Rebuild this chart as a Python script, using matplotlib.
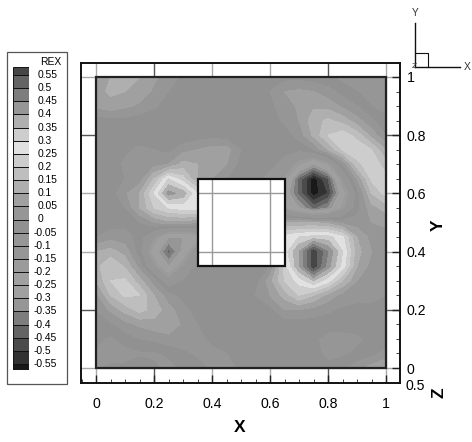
import numpy as np
import matplotlib
matplotlib.use('Agg')
import matplotlib.pyplot as plt
from matplotlib.patches import Rectangle

plt.rcParams['font.family'] = ['Liberation Sans', 'DejaVu Sans']

W, H = 472, 442

# REX, rows from y=1 down to y=0, columns x=0..1
x_vals = [i * 0.05 for i in range(21)]
y_vals = [1 - i * 0.05 for i in range(21)]
rex = [
    [.06, .10, .14, .10, .06, .02, -.01, -.03, -.04, -.04, -.04, -.04, -.03, -.02, -.02, -.03, -.04, -.07, -.09, -.10, -.10],
    [.08, .11, .10, .08, .04, 0, -.03, -.04, -.04, -.04, -.04, -.03, 0, .05, .06, .05, .02, -.02, -.05, -.07, -.08],
    [.06, .08, .06, .04, .01, -.03, -.04, -.04, -.04, -.04, -.04, -.03, -.01, .02, .06, .09, .08, .04, 0, -.05, -.07],
    [-.03, -.02, -.02, -.03, -.04, -.04, -.04, -.04, -.04, -.04, -.04, -.04, -.03, .01, .05, .13, .16, .13, .07, .01, -.04],
    [-.04, -.04, -.03, -.03, -.04, -.04, -.04, -.03, -.02, -.03, -.04, -.04, -.04, -.03, .02, .11, .2, .23, .18, .08, 0],
    [-.04, -.03, -.01, .01, 0, -.02, .03, .05, .07, .07, 0, -.04, -.04, -.04, -.04, 0, .1, .2, .24, .2, .1],
    [-.04, -.03, .01, .02, .03, .05, .12, .10, .10, .05, -.02, -.04, -.04, -.07, -.2, -.3, -.2, 0, .18, .24, .17],
    [-.04, -.03, 0, .02, .15, .3, .22, .1, .05, 0, -.03, -.04, -.07, -.17, -.42, -.58, -.45, -.15, .05, .21, .22],
    [-.04, -.03, .04, .1, .25, .42, .38, .25, .1, 0, -.04, -.1, -.15, -.25, -.42, -.58, -.5, -.25, -.03, .15, .22],
    [-.04, -.03, 0, .1, .2, .25, .27, .28, .1, 0, 0, -.04, -.1, -.2, -.3, -.42, -.35, -.18, -.02, .08, .12],
    [-.03, -.03, -.02, 0, .05, .08, .08, .05, 0, 0, 0, 0, 0, .1, .1, .1, .08, .03, .02, .05, .06],
    [0, .03, .02, -.02, -.15, -.3, -.3, -.25, 0, 0, 0, 0, 0, .27, .3, .32, .32, .26, .1, .03, .03],
    [.1, .12, .08, -.03, -.25, -.42, -.28, -.08, 0, 0, 0, 0, 0, .27, .4, .58, .45, .3, .12, .05, 0],
    [.13, .2, .14, .03, -.15, -.3, -.15, -.04, -.01, -.02, -.03, -.02, 0, .22, .4, .58, .42, .28, .1, .03, 0],
    [.1, .2, .21, .12, .02, -.12, -.05, -.03, -.02, -.03, -.04, -.03, .08, .2, .27, .35, .27, .15, .05, .02, 0],
    [.03, .15, .21, .2, .1, .02, -.02, -.03, -.04, -.04, -.04, 0, .05, .12, .2, .15, .08, .03, .01, .01, 0],
    [0, .06, .12, .17, .13, .07, .02, -.03, -.04, -.04, -.04, -.04, -.02, .05, .05, .03, .01, -.01, -.01, -.01, -.02],
    [-.04, -.01, .03, .06, .08, .09, .04, 0, -.04, -.04, -.04, -.04, -.04, -.03, -.03, -.03, -.03, -.03, -.03, -.03, -.04],
    [-.04, -.06, -.03, 0, .01, .03, .04, .02, -.02, -.04, -.04, -.04, -.04, -.04, -.04, -.04, -.07, -.07, -.06, -.04, -.04],
    [-.06, -.07, -.07, -.06, -.06, -.04, -.02, .01, .02, 0, -.04, -.04, -.04, -.04, -.04, -.04, -.06, -.06, -.04, -.02, .02],
    [-.06, -.04, -.04, -.02, -.04, -.07, -.04, -.03, .01, .03, -.02, -.04, -.04, -.04, -.04, -.04, -.04, -.02, .03, .07, .1],
]

levels = [-.55, -.5, -.45, -.4, -.35, -.3, -.25, -.2, -.15, -.1, -.05, 0,
          .05, .1, .15, .2, .25, .3, .35, .4, .45, .5, .55]
level_labels = ['-0.55', '-0.5', '-0.45', '-0.4', '-0.35', '-0.3', '-0.25', '-0.2', '-0.15', '-0.1', '-0.05', '0',
                '0.05', '0.1', '0.15', '0.2', '0.25', '0.3', '0.35', '0.4', '0.45', '0.5', '0.55']
# gray of each band, lowest to highest
band_gray = [25, 50, 75, 100, 125, 150, 160, 160, 155, 150, 150, 145,
             150, 160, 175, 190, 205, 225, 205, 175, 150, 125, 100, 70]
ticks = [0, 0.2, 0.4, 0.6, 0.8, 1]
tick_labels = ['0', '0.2', '0.4', '0.6', '0.8', '1']
band_colors = [(g / 255, g / 255, g / 255) for g in band_gray]


def px_axes(x0, y0, x1, y1):
    # axes from pixel box, y counted from the top like in the picture
    return [x0 / W, 1 - y1 / H, (x1 - x0) / W, (y1 - y0) / H]


fig = plt.figure(figsize=(W / 100, H / 100), dpi=100)

# outer frame with ticks, runs a bit beyond the 0..1 range
ax = fig.add_axes(px_axes(81, 63, 400, 383))
ax.set_xlim(-15 / 290, 304 / 290)
ax.set_ylim(-15 / 291, 305 / 291)
for t in ticks:
    dark = t in (0.2, 0.8)
    col = '#555555' if dark else '#aaaaaa'
    ax.axvline(t, color=col, lw=1, zorder=1)
    ax.axhline(t, color=col, lw=1, zorder=1)

ax.contourf(x_vals, y_vals, np.array(rex), levels=levels, colors=band_colors, extend='both', zorder=2)

# inner data frame and the square hole
ax.add_patch(Rectangle((0, 0), 1, 1, fill=False, ec='#222222', lw=1.6, zorder=3))
ax.add_patch(Rectangle((0.35, 0.35), 0.3, 0.3, fc='white', ec='none', zorder=2.5))
ax.add_patch(Rectangle((0.35, 0.35), 0.3, 0.3, fill=False, ec='#111111', lw=1.6, zorder=3))
# grid shows through the hole
for t in (0.4, 0.6):
    ax.plot([t, t], [0.35, 0.65], color='#999999', lw=1, zorder=2.8)
    ax.plot([0.35, 0.65], [t, t], color='#999999', lw=1, zorder=2.8)

for s in ax.spines.values():
    s.set_linewidth(1.4)
    s.set_color('#111111')
ax.set_xticks(ticks, tick_labels, fontsize=10.2)
ax.set_yticks(ticks, tick_labels, fontsize=10.2)
ax.xaxis.set_minor_locator(matplotlib.ticker.MultipleLocator(0.05))
ax.yaxis.set_minor_locator(matplotlib.ticker.MultipleLocator(0.05))
ax.yaxis.tick_right()
ax.tick_params(axis='both', which='major', direction='in', length=6, width=1, pad=10, color='#222222')
ax.tick_params(axis='both', which='minor', direction='in', length=3, width=0.7, color='#444444')
ax.tick_params(axis='y', which='both', right=True, left=False)
ax.tick_params(axis='y', which='major', pad=5)

# contour legend
leg = fig.add_axes(px_axes(13, 67, 29, 370))
leg.set_xlim(0, 1)
leg.set_ylim(-.55 - 6 / 262.7, .55 + 8 / 262.7)
edges = [leg.get_ylim()[0]] + levels + [leg.get_ylim()[1]]
for i in range(len(band_colors)):
    leg.bar(0.5, edges[i + 1] - edges[i], 1, bottom=edges[i], color=band_colors[i], ec='#111111', lw=0.7)
leg.axis('off')

# everything left is placed in pixels on a full overlay
ov = fig.add_axes([0, 0, 1, 1])
ov.set_xlim(0, W)
ov.set_ylim(H, 0)
ov.axis('off')
ov.patch.set_alpha(0)
ov.add_patch(Rectangle((7, 52), 60, 332, fill=False, ec='#555555', lw=0.9))
ov.text(61, 62, 'REX', fontsize=7.4, ha='right', va='center')
for lv, lab in zip(levels, level_labels):
    y = 219.5 - lv * 262.7
    ov.text(34 if lab.startswith('-') else 38, y, lab, fontsize=7.4, ha='left', va='center')

ov.text(240, 428, 'X', fontsize=12.5, fontweight='bold', ha='center', va='center')
ov.text(438, 225, 'Y', fontsize=12.5, fontweight='bold', ha='center', va='center', rotation=90)
ov.text(439, 393, 'Z', fontsize=12.5, fontweight='bold', ha='center', va='center', rotation=90)
ov.text(415, 386, '0.5', fontsize=10.2, ha='center', va='center')

# axis triad, top right
ov.plot([415, 415], [23, 67], color='#111111', lw=1)
ov.plot([415, 460], [67, 67], color='#111111', lw=1)
ov.plot([415, 428, 428], [53, 53, 67], color='#111111', lw=0.8)
ov.text(415, 13, 'Y', fontsize=7.4, ha='center', va='center', color='#333333')
ov.text(467, 67, 'X', fontsize=7.4, ha='center', va='center', color='#333333')
ov.text(414, 66, 'Z', fontsize=6, ha='center', va='center', color='#333333')

fig.savefig('out.png', dpi=100)
